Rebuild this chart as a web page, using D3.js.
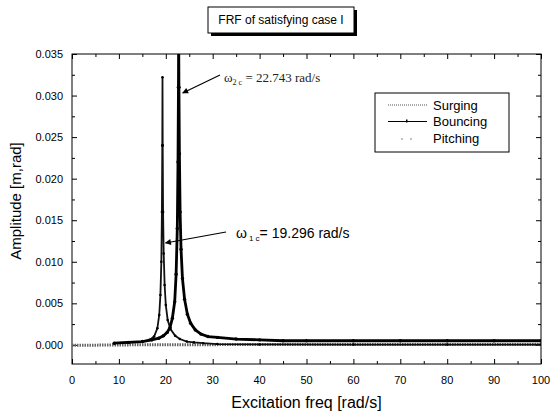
<!DOCTYPE html>
<html>
<head>
<meta charset="utf-8">
<script src="https://cdn.jsdelivr.net/npm/d3@7"></script>
<style>
  html, body { margin: 0; padding: 0; background: #fff; }
  svg { display: block; font-family: "Liberation Sans", Arial, sans-serif; }
</style>
</head>
<body>
<div id="chart"></div>
<script>
// Values
const seriesNames = ["Surging", "Bouncing", "Pitching"];

const surgingFreq = [0, 5, 9, 15, 20, 30, 40, 50, 60, 70, 80, 90, 100];
const surgingAmp = [-0.00003, -0.00003, -0.00002, 0.00002, 0.00003, 0.00003, 0.00004, 0.00004, 0.00004, 0.00004, 0.00004, 0.00004, 0.00004];

const bouncingFreq = [9, 12, 15, 17, 18.5, 19.5, 20.3, 20.9, 21.4, 21.9, 22.2, 22.45, 22.6, 22.7, 22.743, 22.8, 22.9, 23.05, 23.25, 23.55, 24, 24.6, 25.3, 26.3, 27.5, 29, 31, 35, 40, 45, 50, 60, 70, 80, 90, 100];
const bouncingAmp = [0.0002, 0.0003, 0.0004, 0.0006, 0.0008, 0.0011, 0.0015, 0.0021, 0.0032, 0.0052, 0.0085, 0.0140, 0.0220, 0.0310, 0.0380, 0.0310, 0.0230, 0.0160, 0.0115, 0.0080, 0.0055, 0.0037, 0.0026, 0.0018, 0.0013, 0.0010, 0.0009, 0.0007, 0.0006, 0.0005, 0.0005, 0.0005, 0.0005, 0.0005, 0.0005, 0.0005];

const pitchingFreq = [9, 12, 15, 16.5, 17.5, 18.2, 18.6, 18.85, 19.05, 19.17, 19.25, 19.296, 19.34, 19.42, 19.55, 19.75, 20, 20.4, 21, 22, 23, 24.5, 26, 28, 31, 40, 60, 80, 100];
const pitchingAmp = [0.0002, 0.0003, 0.0004, 0.0006, 0.0010, 0.0020, 0.0036, 0.0060, 0.0100, 0.0160, 0.0240, 0.0322, 0.0240, 0.0160, 0.0110, 0.0072, 0.0048, 0.0030, 0.0019, 0.0011, 0.0007, 0.0004, 0.0003, 0.0002, 0.0001, 0.00005, 0.00004, 0.00004, 0.00004];

const xTicks = [0, 10, 20, 30, 40, 50, 60, 70, 80, 90, 100];
const yTicks = [0.000, 0.005, 0.010, 0.015, 0.020, 0.025, 0.030, 0.035];

const chartTitle = "FRF of satisfying case I";
const xLabel = "Excitation freq [rad/s]";
const yLabel = "Amplitude [m,rad]";

const width = 552;
const height = 417;
const margin = {top: 54, right: 11, bottom: 53, left: 72};
const innerWidth = width - margin.left - margin.right;
const innerHeight = height - margin.top - margin.bottom;

const svg = d3.select("#chart")
  .append("svg")
    .attr("width", width)
    .attr("height", height);

const chart = svg
  .append("g")
    .attr("transform", `translate(${margin.left}, ${margin.top})`);

// Scales
const xScale = d3.scaleLinear()
  .domain([0, 100])
  .range([0, innerWidth]);
const yScale = d3.scaleLinear()
  .domain([-0.0023, 0.035])
  .range([innerHeight, 0]);

// Tick marks on all four sides, pointing inwards (labels drawn separately)
const xMinor = d3.range(5, 100, 10);
const yMinor = d3.range(0.0025, 0.035, 0.005);
const tickSets = [
  {axis: d3.axisBottom(xScale).tickValues(xTicks).tickSize(-5), at: `translate(0,${innerHeight})`},
  {axis: d3.axisLeft(yScale).tickValues(yTicks).tickSize(-5), at: "translate(0,0)"},
  {axis: d3.axisTop(xScale).tickValues(xTicks).tickSize(-5), at: "translate(0,0)"},
  {axis: d3.axisRight(yScale).tickValues(yTicks).tickSize(-5), at: `translate(${innerWidth},0)`},
  {axis: d3.axisBottom(xScale).tickValues(xMinor).tickSize(-3), at: `translate(0,${innerHeight})`},
  {axis: d3.axisTop(xScale).tickValues(xMinor).tickSize(-3), at: "translate(0,0)"},
  {axis: d3.axisLeft(yScale).tickValues(yMinor).tickSize(-3), at: "translate(0,0)"},
  {axis: d3.axisRight(yScale).tickValues(yMinor).tickSize(-3), at: `translate(${innerWidth},0)`}
];
tickSets.forEach(t => {
  const g = chart.append("g")
    .attr("transform", t.at)
    .call(t.axis.tickFormat(""));
  g.selectAll("text").remove();
  g.select(".domain").remove();
  g.selectAll(".tick line").attr("stroke", "#000");
});

// Tick labels
chart.append("g")
  .selectAll("text")
  .data(xTicks)
  .join("text")
    .attr("x", d => xScale(d))
    .attr("y", innerHeight + 20)
    .attr("text-anchor", "middle")
    .style("font-size", "11px")
    .text(d => d3.format("d")(d));
chart.append("g")
  .selectAll("text")
  .data(yTicks)
  .join("text")
    .attr("x", -9)
    .attr("y", d => yScale(d) + 4)
    .attr("text-anchor", "end")
    .style("font-size", "11px")
    .text(d => d3.format(".3f")(d));

// frame
chart
  .append("rect")
    .attr("width", innerWidth)
    .attr("height", innerHeight)
    .attr("fill", "none")
    .attr("stroke", "#000")
    .attr("stroke-width", 1);

// Data lines
chart.append("clipPath")
    .attr("id", "plot-clip")
  .append("rect")
    .attr("width", innerWidth)
    .attr("height", innerHeight);
const plot = chart.append("g").attr("clip-path", "url(#plot-clip)");

const lineGenerator = d3.line()
  .x(d => xScale(d[0]))
  .y(d => yScale(d[1]));

const surging = d3.zip(surgingFreq, surgingAmp);
const bouncing = d3.zip(bouncingFreq, bouncingAmp);
const pitching = d3.zip(pitchingFreq, pitchingAmp);

plot.append("path")
    .attr("d", lineGenerator(surging))
    .attr("fill", "none")
    .attr("stroke", "#666")
    .attr("stroke-width", 3)
    .attr("stroke-dasharray", "1.5,1");

plot.append("path")
    .attr("d", lineGenerator(pitching))
    .attr("fill", "none")
    .attr("stroke", "#111")
    .attr("stroke-width", 1.8);
plot.selectAll("circle.pitching")
  .data(pitching)
  .join("circle")
    .attr("class", "pitching")
    .attr("cx", d => xScale(d[0]))
    .attr("cy", d => yScale(d[1]))
    .attr("r", 1.3)
    .attr("fill", "#000");

plot.append("path")
    .attr("d", lineGenerator(bouncing))
    .attr("fill", "none")
    .attr("stroke", "#000")
    .attr("stroke-width", 2.8);
plot.selectAll("circle.bouncing")
  .data(bouncing)
  .join("circle")
    .attr("class", "bouncing")
    .attr("cx", d => xScale(d[0]))
    .attr("cy", d => yScale(d[1]))
    .attr("r", 1.7)
    .attr("fill", "#000");

// Annotations with arrows
svg.append("defs")
  .append("marker")
    .attr("id", "arrow")
    .attr("viewBox", "0 0 10 10")
    .attr("refX", 9)
    .attr("refY", 5)
    .attr("markerWidth", 7)
    .attr("markerHeight", 5)
    .attr("orient", "auto")
  .append("path")
    .attr("d", "M0,0 L10,5 L0,10 Z")
    .attr("fill", "#000");

const ann2 = svg.append("text")
    .attr("x", 224)
    .attr("y", 82)
    .attr("fill", "#222")
    .style("font-family", "'Liberation Serif', serif")
    .style("font-size", "13px");
ann2.append("tspan").text("ω");
ann2.append("tspan").attr("dy", 3).style("font-size", "8px").text("2 c");
ann2.append("tspan").attr("dy", -3).text(" = 22.743 rad/s");
svg.append("line")
    .attr("x1", 220).attr("y1", 75)
    .attr("x2", margin.left + xScale(22.743) + 4).attr("y2", 93)
    .attr("stroke", "#000")
    .attr("stroke-width", 1.2)
    .attr("marker-end", "url(#arrow)");

const ann1 = svg.append("text")
    .attr("x", 236)
    .attr("y", 238)
    .style("font-size", "14px");
ann1.append("tspan").text("ω");
ann1.append("tspan").attr("dy", 3).attr("dx", 2).style("font-size", "8px").text("1 c");
ann1.append("tspan").attr("dy", -3).text("= 19.296 rad/s");
svg.append("line")
    .attr("x1", 226).attr("y1", 232)
    .attr("x2", margin.left + xScale(19.296) + 3).attr("y2", 243)
    .attr("stroke", "#000")
    .attr("stroke-width", 1.2)
    .attr("marker-end", "url(#arrow)");

// Legend
const legend = svg.append("g").attr("transform", "translate(375, 93)");
legend.append("rect")
    .attr("width", 134)
    .attr("height", 59)
    .attr("fill", "#fff")
    .attr("stroke", "#000");
const legendItems = legend.selectAll("g.item")
  .data(seriesNames)
  .join("g")
    .attr("class", "item")
    .attr("transform", (d, i) => `translate(0, ${12 + i * 16.5})`);
legendItems.append("text")
    .attr("x", 58)
    .attr("y", 4.5)
    .style("font-size", "13px")
    .text(d => d);
legendItems.filter(d => d === "Surging")
  .append("line")
    .attr("x1", 13).attr("x2", 52)
    .attr("stroke", "#555")
    .attr("stroke-width", 1)
    .attr("stroke-dasharray", "1,1");
legendItems.filter(d => d === "Bouncing")
  .append("line")
    .attr("x1", 13).attr("x2", 52)
    .attr("stroke", "#000")
    .attr("stroke-width", 1.2);
legendItems.filter(d => d === "Bouncing")
  .append("rect")
    .attr("x", 31).attr("y", -2).attr("width", 1.5).attr("height", 3)
    .attr("fill", "#000");
legendItems.filter(d => d === "Pitching")
  .selectAll("circle")
  .data([27, 36])
  .join("circle")
    .attr("cx", d => d)
    .attr("cy", 1)
    .attr("r", 0.7)
    .attr("fill", "#555");

// Title box with drop shadow
const titleBox = svg.append("g").attr("transform", "translate(208, 7)");
titleBox.append("rect")
    .attr("x", 3).attr("y", 3)
    .attr("width", 146).attr("height", 26)
    .attr("fill", "#000");
titleBox.append("rect")
    .attr("width", 146).attr("height", 26)
    .attr("fill", "#fff")
    .attr("stroke", "#000");
titleBox.append("text")
    .attr("x", 73)
    .attr("y", 17)
    .attr("text-anchor", "middle")
    .style("font-size", "12px")
    .text(chartTitle);

// Axis titles
svg.append("text")
    .attr("x", margin.left + innerWidth / 2)
    .attr("y", 408)
    .attr("text-anchor", "middle")
    .style("font-size", "16px")
    .text(xLabel);
svg.append("text")
    .attr("transform", `translate(21, ${margin.top + innerHeight / 2 - 8}) rotate(-90)`)
    .attr("text-anchor", "middle")
    .style("font-size", "15px")
    .text(yLabel);
</script>
</body>
</html>
